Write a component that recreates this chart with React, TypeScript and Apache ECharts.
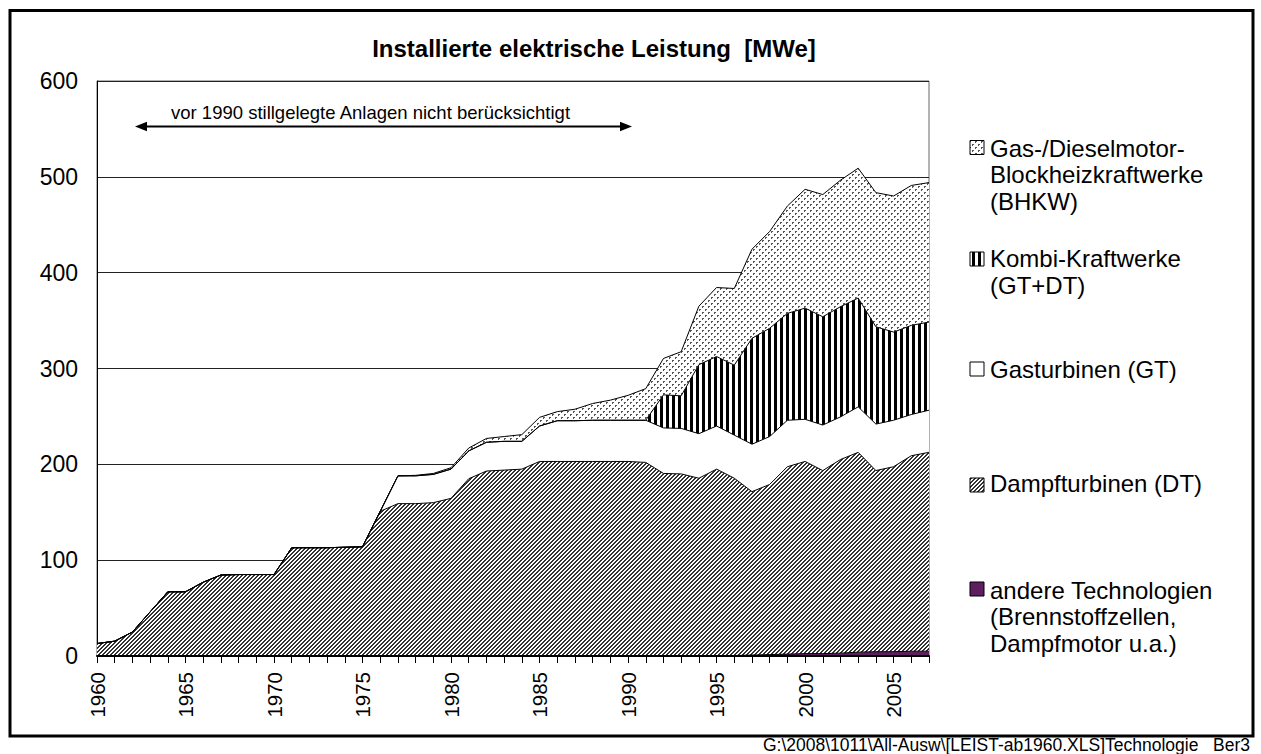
import React, { useEffect, useRef } from "react";
import * as echarts from "echarts";

const years = [
  "1960","1961","1962","1963","1964","1965","1966","1967","1968","1969",
  "1970","1971","1972","1973","1974","1975","1976","1977","1978","1979",
  "1980","1981","1982","1983","1984","1985","1986","1987","1988","1989",
  "1990","1991","1992","1993","1994","1995","1996","1997","1998","1999",
  "2000","2001","2002","2003","2004","2005","2006","2007",
];

// andere Technologien (Brennstoffzellen, Dampfmotor u.a.)
const andere = [
  0,0,0,0,0,0,0,0,0,0,
  0,0,0,0,0,0,0,0,0,0,
  0,0,0,0,0,0,0,0,0,0,
  0,0,0,0,0,0,0.5,1,1.5,2,
  2.5,2.5,3,4,4.5,4.5,5,5,
];
// Dampfturbinen (DT)
const dampf = [
  13,15.5,25,46,67,67,77,84.5,85,85,
  85,113,113,113,113.5,114,151,159,159,160,
  164.5,185,193,194,195,203,203,203,203,203,
  203,202,190.5,190,185.5,195,185,170.5,177.5,195.5,
  200.5,191,202,208.5,189,193,204,207.5,
];
// Gasturbinen (GT)
const gasturb = [
  0,0,0,0,0,0,0,0,0,0,
  0,0,0,0,0,0,0,29,29,29.5,
  30.5,29,30,30,29,37,42.5,42.5,43,43,
  43,44,47.5,47.5,46.5,45,45,49.5,50,48.5,
  44,47.5,44.5,47.5,48.5,48.5,43,44,
];
// Kombi-Kraftwerke (GT+DT)
const kombi = [
  0,0,0,0,0,0,0,0,0,0,
  0,0,0,0,0,0,0,0,0,0,
  0,0,0,0,0,0,0,0,0,0,
  0,0,34.5,34,72,72.5,73,110.5,113,111.5,
  116,113,115,113.5,101.5,92,93,92,
];
// Gas-/Dieselmotor-Blockheizkraftwerke (BHKW)
const bhkw = [
  0,0,0,0,0,0,0,0,0,0,
  0,0,0,0,0,0,0,0,0.5,1,
  1.5,3,4,5,7,9,9.5,12,17.5,21,
  26,33,38,46,61,72,80,93,101,112,
  124,127.5,132,135.5,140,142,146,145.5,
];

const legendNames = [
  "Gas-/Dieselmotor-\nBlockheizkraftwerke\n(BHKW)",
  "Kombi-Kraftwerke\n(GT+DT)",
  "Gasturbinen (GT)",
  "Dampfturbinen (DT)",
  "andere Technologien\n(Brennstoffzellen,\nDampfmotor u.a.)",
];

const FONT = "'Liberation Sans', Arial, sans-serif";
const PURPLE = "#5E1F60";

function makeTile(w: number, h: number, draw: (ctx: CanvasRenderingContext2D) => void) {
  const c = document.createElement("canvas");
  c.width = w;
  c.height = h;
  const ctx = c.getContext("2d")!;
  ctx.fillStyle = "#ffffff";
  ctx.fillRect(0, 0, w, h);
  draw(ctx);
  return { image: c as any, repeat: "repeat", imageWidth: w, imageHeight: h } as any;
}

export default function App() {
  const ref = useRef<HTMLDivElement>(null);

  useEffect(() => {
    document.body.style.margin = "0";
    if (!ref.current) return;
    const chart = echarts.init(ref.current, undefined, { renderer: "svg" });

    const hatch = makeTile(4, 4, (ctx) => {
      ctx.fillStyle = "#333333";
      for (let x = 0; x < 4; x++)
        for (let y = 0; y < 4; y++)
          if ((x + y) % 4 < 2) ctx.fillRect(x, y, 1, 1);
    });
    const stripes = makeTile(6, 2, (ctx) => {
      ctx.fillStyle = "#000000";
      ctx.fillRect(0, 0, 3, 2);
    });
    const dots = makeTile(6, 6, (ctx) => {
      ctx.fillStyle = "#555555";
      ctx.fillRect(0, 0, 2, 1);
      ctx.fillRect(0, 1, 1, 1);
      ctx.fillRect(3, 3, 2, 1);
      ctx.fillRect(3, 4, 1, 1);
    });

    const mk = (name: string, data: number[], color: any) => ({
      name,
      type: "line",
      stack: "total",
      data,
      symbol: "none",
      showSymbol: false,
      silent: true,
      lineStyle: { color: "#000", width: 1 },
      areaStyle: { color, opacity: 1 },
      emphasis: { disabled: true },
    });

    const legendItems = [
      { fill: dots, icon: 147.5, text: 148 },
      { fill: stripes, icon: 259, text: 258.5 },
      { fill: "#ffffff", icon: 369, text: 369 },
      { fill: hatch, icon: 485, text: 483 },
      { fill: PURPLE, icon: 589, text: 590 },
    ];
    const LH = 26.5;
    const legendGraphics: any[] = [];
    legendItems.forEach((it, i) => {
      legendGraphics.push({
        type: "rect",
        shape: { x: 970, y: it.icon - 7, width: 14, height: 14 },
        style: { fill: it.fill, stroke: "#000", lineWidth: 1 },
        silent: true,
      });
      legendGraphics.push({
        type: "text",
        x: 990,
        y: it.text - LH / 2,
        style: {
          text: legendNames[i],
          fontSize: 24,
          fontFamily: FONT,
          fill: "#000",
          lineHeight: LH,
          verticalAlign: "top",
          align: "left",
        },
        silent: true,
      });
    });

    chart.setOption({
      animation: false,
      textStyle: { fontFamily: FONT },
      grid: {
        left: 97,
        right: 332,
        top: 81,
        bottom: 98,
        show: true,
        borderColor: "#666",
        borderWidth: 1,
        containLabel: false,
      },
      xAxis: {
        type: "category",
        data: years,
        boundaryGap: false,
        z: 10,
        axisLine: { show: true, lineStyle: { color: "#000", width: 2 } },
        axisTick: { show: true, interval: 0, length: 7, lineStyle: { color: "#000", width: 1 } },
        axisLabel: {
          interval: 4,
          rotate: 90,
          fontSize: 20.5,
          color: "#000",
          margin: 16,
          fontFamily: FONT,
        },
        splitLine: { show: false },
      },
      yAxis: {
        type: "value",
        min: 0,
        max: 600,
        interval: 100,
        axisLine: { show: true, lineStyle: { color: "#000", width: 1 } },
        axisTick: { show: false },
        axisLabel: { fontSize: 23, color: "#000", margin: 19, fontFamily: FONT },
        splitLine: { show: true, lineStyle: { color: "#222", width: 1 } },
      },
      series: [
        mk("andere Technologien", andere, PURPLE),
        mk("Dampfturbinen (DT)", dampf, hatch),
        mk("Gasturbinen (GT)", gasturb, "#ffffff"),
        mk("Kombi-Kraftwerke (GT+DT)", kombi, stripes),
        mk("Gas-/Dieselmotor-Blockheizkraftwerke (BHKW)", bhkw, dots),
      ],
      graphic: [
        {
          type: "rect",
          shape: { x: 10, y: 10.5, width: 1243, height: 725.5 },
          style: { fill: "none", stroke: "#000", lineWidth: 3 },
          silent: true,
          z: 100,
        },
        {
          type: "text",
          x: 594,
          y: 48,
          style: {
            text: "Installierte elektrische Leistung  [MWe]",
            fontSize: 24,
            fontWeight: "bold",
            fontFamily: FONT,
            fill: "#000",
            align: "center",
            verticalAlign: "middle",
          },
          silent: true,
        },
        {
          type: "text",
          x: 171,
          y: 112.5,
          style: {
            text: "vor 1990 stillgelegte Anlagen nicht berücksichtigt",
            fontSize: 18.5,
            fontFamily: FONT,
            fill: "#000",
            align: "left",
            verticalAlign: "middle",
          },
          silent: true,
          z: 50,
        },
        {
          type: "line",
          shape: { x1: 142, y1: 126.5, x2: 625, y2: 126.5 },
          style: { stroke: "#000", lineWidth: 2 },
          silent: true,
          z: 50,
        },
        {
          type: "polygon",
          shape: { points: [[135, 126.5], [147, 121.8], [147, 131.2]] },
          style: { fill: "#000" },
          silent: true,
          z: 50,
        },
        {
          type: "polygon",
          shape: { points: [[632, 126.5], [620, 121.8], [620, 131.2]] },
          style: { fill: "#000" },
          silent: true,
          z: 50,
        },
        ...legendGraphics,
        {
          type: "text",
          x: 1250,
          y: 745,
          style: {
            text: "G:\\2008\\1011\\All-Ausw\\[LEIST-ab1960.XLS]Technologie   Ber3",
            fontSize: 17.5,
            fontFamily: FONT,
            fill: "#000",
            align: "right",
            verticalAlign: "middle",
          },
          silent: true,
        },
      ],
    });

    return () => {
      chart.dispose();
    };
  }, []);

  return <div ref={ref} style={{ width: 1261, height: 754, background: "#fff" }} />;
}
